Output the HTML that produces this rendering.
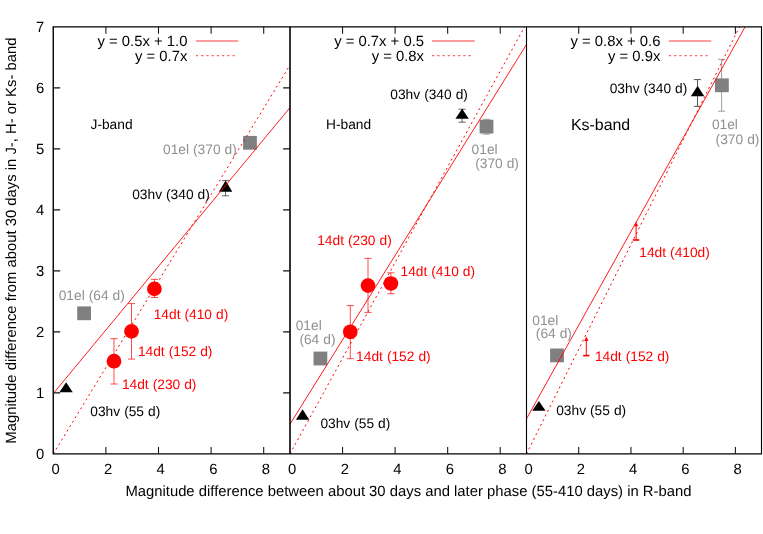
<!DOCTYPE html>
<html><head><meta charset="utf-8"><title>plot</title>
<style>html,body{margin:0;padding:0;background:#fff;}svg{display:block;}svg{will-change:transform;}text{font-family:"Liberation Sans",sans-serif;text-rendering:geometricPrecision;}</style></head><body>
<svg width="763" height="534" viewBox="0 0 763 534">
<rect x="0" y="0" width="763" height="534" fill="#fff"/>
<text x="187.4" y="46.0" font-size="14.84" text-anchor="end" fill="#000">y = 0.5x + 1.0</text>
<text x="187.4" y="60.7" font-size="14.84" text-anchor="end" fill="#000">y = 0.7x</text>
<line x1="195.9" y1="41.0" x2="238.3" y2="41.0" stroke="#ff0000" stroke-width="0.78"/>
<line x1="195.9" y1="55.7" x2="236.8" y2="55.7" stroke="#ff0000" stroke-width="0.78" stroke-dasharray="2.2 3.03"/>
<text x="424.0" y="46.0" font-size="14.84" text-anchor="end" fill="#000">y = 0.7x + 0.5</text>
<text x="424.0" y="60.7" font-size="14.84" text-anchor="end" fill="#000">y = 0.8x</text>
<line x1="432.0" y1="41.0" x2="474.8" y2="41.0" stroke="#ff0000" stroke-width="0.78"/>
<line x1="432.0" y1="55.7" x2="473.3" y2="55.7" stroke="#ff0000" stroke-width="0.78" stroke-dasharray="2.2 3.03"/>
<text x="660.4" y="46.0" font-size="14.84" text-anchor="end" fill="#000">y = 0.8x + 0.6</text>
<text x="660.4" y="60.7" font-size="14.84" text-anchor="end" fill="#000">y = 0.9x</text>
<line x1="668.9" y1="41.0" x2="711.2" y2="41.0" stroke="#ff0000" stroke-width="0.78"/>
<line x1="668.9" y1="55.7" x2="709.7" y2="55.7" stroke="#ff0000" stroke-width="0.78" stroke-dasharray="2.2 3.03"/>
<path d="M66.1 382.2L72.8 392.2H59.39999999999999Z" fill="#000"/>
<rect x="77.19999999999999" y="306.40000000000003" width="13.8" height="13.8" fill="#808080"/>
<path d="M114.0 338.7V384.0M110.4 338.7H117.6M110.4 384.0H117.6" stroke="#ff0000" stroke-width="0.7" fill="none"/>
<circle cx="114.0" cy="361.2" r="7.35" fill="#ff0000"/>
<path d="M131.5 303.6V359.1M127.9 303.6H135.1M127.9 359.1H135.1" stroke="#ff0000" stroke-width="0.7" fill="none"/>
<circle cx="131.5" cy="331.4" r="7.35" fill="#ff0000"/>
<path d="M154.4 279.4V297.5M150.8 279.4H158.0M150.8 297.5H158.0" stroke="#ff0000" stroke-width="0.7" fill="none"/>
<circle cx="154.4" cy="288.9" r="7.35" fill="#ff0000"/>
<path d="M225.5 180.6V195.8M221.9 180.6H229.1M221.9 195.8H229.1" stroke="#222" stroke-width="0.7" fill="none"/>
<path d="M225.6 180.5L232.29999999999998 191.7H218.9Z" fill="#000"/>
<rect x="243.1" y="135.9" width="13.8" height="13.8" fill="#808080"/>
<path d="M302.6 409.3L309.3 419.8H295.90000000000003Z" fill="#000"/>
<rect x="313.5" y="351.6" width="13.8" height="13.8" fill="#808080"/>
<path d="M350.3 305.6V358.7M346.7 305.6H353.90000000000003M346.7 358.7H353.90000000000003" stroke="#ff0000" stroke-width="0.7" fill="none"/>
<circle cx="350.3" cy="331.8" r="7.35" fill="#ff0000"/>
<path d="M368.0 258.4V312.4M364.4 258.4H371.6M364.4 312.4H371.6" stroke="#ff0000" stroke-width="0.7" fill="none"/>
<circle cx="368.0" cy="285.6" r="7.35" fill="#ff0000"/>
<path d="M390.9 272.8V293.7M387.29999999999995 272.8H394.5M387.29999999999995 293.7H394.5" stroke="#ff0000" stroke-width="0.7" fill="none"/>
<circle cx="390.9" cy="283.5" r="7.35" fill="#ff0000"/>
<path d="M462.1 109.2V122.2M458.5 109.2H465.70000000000005M458.5 122.2H465.70000000000005" stroke="#222" stroke-width="0.7" fill="none"/>
<path d="M462.1 108.8L468.8 118.8H455.40000000000003Z" fill="#000"/>
<path d="M486.5 119.3V134.2M482.9 119.3H490.1M482.9 134.2H490.1" stroke="#808080" stroke-width="0.75" fill="none"/>
<rect x="479.6" y="119.69999999999999" width="13.8" height="13.8" fill="#808080"/>
<path d="M538.9 400.9L545.6 410.8H532.1999999999999Z" fill="#000"/>
<rect x="550.1" y="348.5" width="13.8" height="13.8" fill="#808080"/>
<path d="M586.3 339.4V355.6" stroke="#ff0000" stroke-width="1" fill="none"/>
<path d="M583.0999999999999 355.6H589.5" stroke="#ff0000" stroke-width="1.6" fill="none"/>
<path d="M586.3 336.59999999999997L588.4 340.9H584.1999999999999Z" fill="#ff0000"/>
<path d="M636.1 224.7V240.0" stroke="#ff0000" stroke-width="1" fill="none"/>
<path d="M632.9 240.0H639.3000000000001" stroke="#ff0000" stroke-width="1.6" fill="none"/>
<path d="M636.1 221.89999999999998L638.2 226.2H634.0Z" fill="#ff0000"/>
<path d="M697.5 79.6V106.4M693.9 79.6H701.1M693.9 106.4H701.1" stroke="#111" stroke-width="0.7" fill="none"/>
<path d="M697.6 85.8L704.3000000000001 96.2H690.9Z" fill="#000"/>
<path d="M721.6 59.3V111.2M718.0 59.3H725.2M718.0 111.2H725.2" stroke="#8c8c8c" stroke-width="0.85" fill="none"/>
<rect x="715.0" y="78.39999999999999" width="13.8" height="13.8" fill="#808080"/>
<line x1="53.3" y1="393.5" x2="290.0" y2="107.6" stroke="#ff0000" stroke-width="0.9"/>
<line x1="53.3" y1="453.87" x2="290.0" y2="65.0" stroke="#ff0000" stroke-width="1.0" stroke-dasharray="2 3.23"/>
<line x1="290.0" y1="424.2" x2="526.5" y2="44.5" stroke="#ff0000" stroke-width="0.9"/>
<line x1="290.0" y1="453.87" x2="524.5" y2="26.87" stroke="#ff0000" stroke-width="1.0" stroke-dasharray="2 3.23"/>
<line x1="526.5" y1="418.8" x2="745.1" y2="26.87" stroke="#ff0000" stroke-width="0.9"/>
<line x1="526.5" y1="453.87" x2="739.5" y2="26.87" stroke="#ff0000" stroke-width="1.0" stroke-dasharray="2 3.23"/>
<text x="90.5" y="129.2" font-size="13.75" fill="#000" text-anchor="start" word-spacing="0.2">J-band</text>
<text x="163.0" y="153.8" font-size="13.75" fill="#909090" text-anchor="start" word-spacing="0.2">01el (370 d)</text>
<text x="132.2" y="199.3" font-size="13.75" fill="#000" text-anchor="start" word-spacing="0.2">03hv (340 d)</text>
<text x="58.7" y="300.2" font-size="13.75" fill="#909090" text-anchor="start" word-spacing="0.2">01el (64 d)</text>
<text x="153.7" y="318.5" font-size="13.75" fill="#ff0000" text-anchor="start" word-spacing="0.2">14dt (410 d)</text>
<text x="137.9" y="355.5" font-size="13.75" fill="#ff0000" text-anchor="start" word-spacing="0.2">14dt (152 d)</text>
<text x="121.9" y="388.7" font-size="13.75" fill="#ff0000" text-anchor="start" word-spacing="0.2">14dt (230 d)</text>
<text x="90.3" y="415.9" font-size="13.75" fill="#000" text-anchor="start" word-spacing="0.2">03hv (55 d)</text>
<text x="326.0" y="128.9" font-size="13.75" fill="#000" text-anchor="start" word-spacing="0.2">H-band</text>
<text x="390.3" y="98.9" font-size="13.75" fill="#000" text-anchor="start" word-spacing="0.2">03hv (340 d)</text>
<text x="471.6" y="153.7" font-size="13.75" fill="#909090" text-anchor="start" word-spacing="0.2">01el</text>
<text x="475.2" y="167.8" font-size="13.75" fill="#909090" text-anchor="start" word-spacing="0.2">(370 d)</text>
<text x="317.2" y="244.8" font-size="13.75" fill="#ff0000" text-anchor="start" word-spacing="0.2">14dt (230 d)</text>
<text x="400.5" y="275.7" font-size="13.75" fill="#ff0000" text-anchor="start" word-spacing="0.2">14dt (410 d)</text>
<text x="295.7" y="330.4" font-size="13.75" fill="#909090" text-anchor="start" word-spacing="0.2">01el</text>
<text x="299.4" y="344.0" font-size="13.75" fill="#909090" text-anchor="start" word-spacing="0.2">(64 d)</text>
<text x="356.1" y="361.3" font-size="13.75" fill="#ff0000" text-anchor="start" word-spacing="0.2">14dt (152 d)</text>
<text x="320.4" y="427.5" font-size="13.75" fill="#000" text-anchor="start" word-spacing="0.2">03hv (55 d)</text>
<text x="571.0" y="129.5" font-size="15.9" fill="#000" text-anchor="start" word-spacing="0.2">Ks-band</text>
<text x="609.7" y="92.8" font-size="13.75" fill="#000" text-anchor="start" word-spacing="0.2">03hv (340 d)</text>
<text x="711.9" y="128.9" font-size="13.75" fill="#909090" text-anchor="start" word-spacing="0.2">01el</text>
<text x="715.6" y="143.6" font-size="13.75" fill="#909090" text-anchor="start" word-spacing="0.2">(370 d)</text>
<text x="639.3" y="257.0" font-size="13.75" fill="#ff0000" text-anchor="start" word-spacing="0.2">14dt (410d)</text>
<text x="532.3" y="324.8" font-size="13.75" fill="#909090" text-anchor="start" word-spacing="0.2">01el</text>
<text x="535.8" y="338.0" font-size="13.75" fill="#909090" text-anchor="start" word-spacing="0.2">(64 d)</text>
<text x="594.9" y="360.7" font-size="13.75" fill="#ff0000" text-anchor="start" word-spacing="0.2">14dt (152 d)</text>
<text x="556.2" y="415.1" font-size="13.75" fill="#000" text-anchor="start" word-spacing="0.2">03hv (55 d)</text>
<path d="M52.699999999999996 26.87H762.05M52.699999999999996 453.87H762.05" stroke="#000" stroke-width="1.2" fill="none"/>
<path d="M53.25 26.87V453.87" stroke="#000" stroke-width="1.4" fill="none"/>
<path d="M290.0 26.87V453.87" stroke="#000" stroke-width="1.6" fill="none"/>
<path d="M526.5 26.87V453.87M761.5 26.87V453.87" stroke="#000" stroke-width="1.12" fill="none"/>
<path d="M105.90 453.87v-6.8M105.90 26.87v6.8 M158.50 453.87v-6.8M158.50 26.87v6.8 M211.10 453.87v-6.8M211.10 26.87v6.8 M263.70 453.87v-6.8M263.70 26.87v6.8 M342.56 453.87v-6.8M342.56 26.87v6.8 M395.11 453.87v-6.8M395.11 26.87v6.8 M447.67 453.87v-6.8M447.67 26.87v6.8 M500.22 453.87v-6.8M500.22 26.87v6.8 M578.72 453.87v-6.8M578.72 26.87v6.8 M630.94 453.87v-6.8M630.94 26.87v6.8 M683.17 453.87v-6.8M683.17 26.87v6.8 M735.39 453.87v-6.8M735.39 26.87v6.8 M53.3 392.87h6.9 M290.0 392.87h-6.9 M53.3 331.87h6.9 M290.0 331.87h-6.9 M53.3 270.87h6.9 M290.0 270.87h-6.9 M53.3 209.87h6.9 M290.0 209.87h-6.9 M53.3 148.87h6.9 M290.0 148.87h-6.9 M53.3 87.87h6.9 M290.0 87.87h-6.9" stroke="#111" stroke-width="1.05" fill="none"/>
<text x="55.50" y="473.6" font-size="14.84" text-anchor="middle" fill="#000">0</text>
<text x="108.10" y="473.6" font-size="14.84" text-anchor="middle" fill="#000">2</text>
<text x="160.70" y="473.6" font-size="14.84" text-anchor="middle" fill="#000">4</text>
<text x="213.30" y="473.6" font-size="14.84" text-anchor="middle" fill="#000">6</text>
<text x="265.90" y="473.6" font-size="14.84" text-anchor="middle" fill="#000">8</text>
<text x="292.20" y="473.6" font-size="14.84" text-anchor="middle" fill="#000">0</text>
<text x="344.76" y="473.6" font-size="14.84" text-anchor="middle" fill="#000">2</text>
<text x="397.31" y="473.6" font-size="14.84" text-anchor="middle" fill="#000">4</text>
<text x="449.87" y="473.6" font-size="14.84" text-anchor="middle" fill="#000">6</text>
<text x="502.42" y="473.6" font-size="14.84" text-anchor="middle" fill="#000">8</text>
<text x="528.70" y="473.6" font-size="14.84" text-anchor="middle" fill="#000">0</text>
<text x="580.92" y="473.6" font-size="14.84" text-anchor="middle" fill="#000">2</text>
<text x="633.14" y="473.6" font-size="14.84" text-anchor="middle" fill="#000">4</text>
<text x="685.37" y="473.6" font-size="14.84" text-anchor="middle" fill="#000">6</text>
<text x="737.59" y="473.6" font-size="14.84" text-anchor="middle" fill="#000">8</text>
<text x="44.3" y="459.07" font-size="14.84" text-anchor="end" fill="#000">0</text>
<text x="44.3" y="398.07" font-size="14.84" text-anchor="end" fill="#000">1</text>
<text x="44.3" y="337.07" font-size="14.84" text-anchor="end" fill="#000">2</text>
<text x="44.3" y="276.07" font-size="14.84" text-anchor="end" fill="#000">3</text>
<text x="44.3" y="215.07" font-size="14.84" text-anchor="end" fill="#000">4</text>
<text x="44.3" y="154.07" font-size="14.84" text-anchor="end" fill="#000">5</text>
<text x="44.3" y="93.07" font-size="14.84" text-anchor="end" fill="#000">6</text>
<text x="44.3" y="32.07" font-size="14.84" text-anchor="end" fill="#000">7</text>
<text x="408.4" y="495.6" font-size="14.84" text-anchor="middle" fill="#000">Magnitude difference between about 30 days and later phase (55-410 days) in R-band</text>
<text transform="translate(15.5 240.6) rotate(-90)" font-size="14.84" text-anchor="middle" fill="#000">Magnitude difference from about 30 days in J-, H- or Ks- band</text>
</svg></body></html>
